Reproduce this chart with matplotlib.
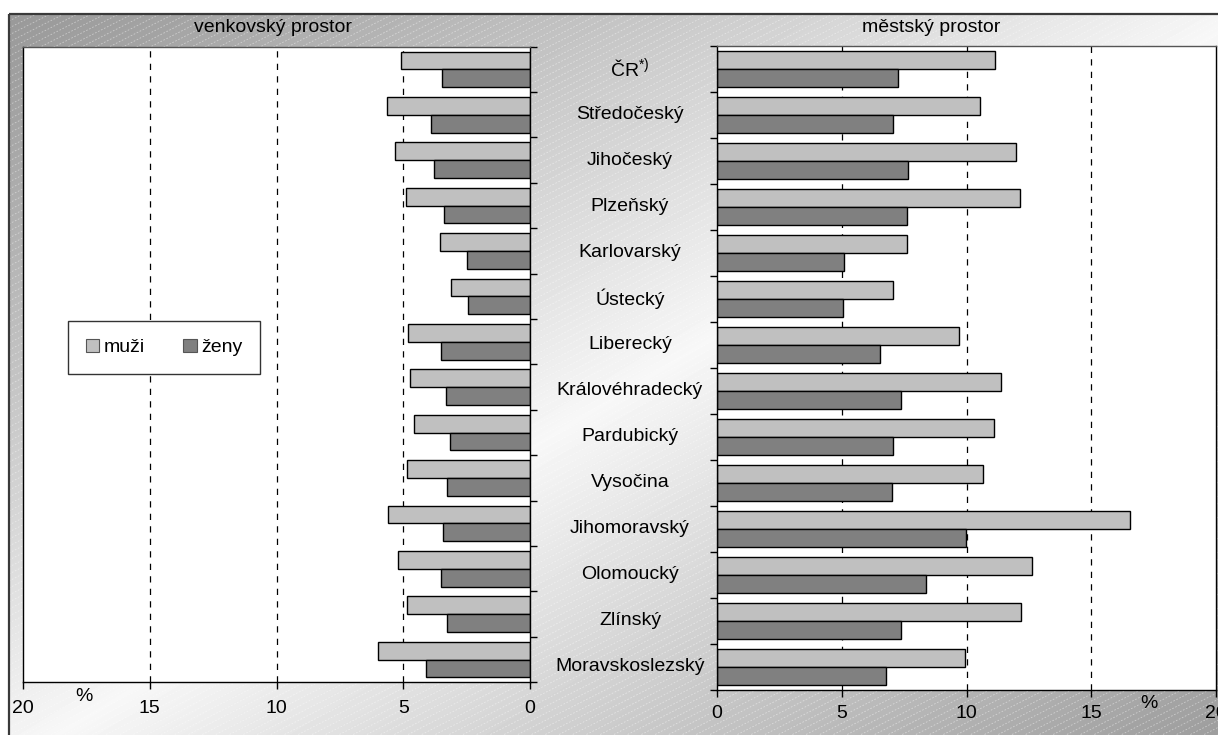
import numpy as np
import matplotlib
matplotlib.use("Agg")
import matplotlib.pyplot as plt
from matplotlib import transforms
from matplotlib.collections import LineCollection
from matplotlib.patches import Rectangle, Patch

plt.rcParams['font.family'] = ['Liberation Sans', 'DejaVu Sans']
plt.rcParams['mathtext.fontset'] = 'custom'
plt.rcParams['mathtext.rm'] = 'Liberation Sans'

# ---------------- data ----------------
regions = ["ČR$^{\\mathregular{*)}}$", "Středočeský", "Jihočeský", "Plzeňský", "Karlovarský",
           "Ústecký", "Liberecký", "Královéhradecký", "Pardubický", "Vysočina",
           "Jihomoravský", "Olomoucký", "Zlínský", "Moravskoslezský"]
rural_men = [5.07, 5.66, 5.31, 4.91, 3.57, 3.13, 4.83, 4.73, 4.56, 4.87, 5.62, 5.22, 4.87, 6.00]
rural_women = [3.49, 3.89, 3.77, 3.41, 2.50, 2.46, 3.53, 3.33, 3.17, 3.28, 3.43, 3.53, 3.28, 4.12]
urban_men = [11.16, 10.56, 11.97, 12.13, 7.63, 7.07, 9.68, 11.38, 11.12, 10.68, 16.57, 12.63, 12.17, 9.95]
urban_women = [7.27, 7.07, 7.67, 7.63, 5.09, 5.06, 6.55, 7.39, 7.07, 7.02, 9.97, 8.39, 7.39, 6.79]
xticks_vals = [0, 5, 10, 15, 20]
legend_labels = ["muži", "ženy"]
panel_titles = ["venkovský prostor", "městský prostor"]

C_MEN = "#c0c0c0"
C_WOMEN = "#808080"
W, H = 1218, 735
FS = 14

fig = plt.figure(figsize=(W / 100, H / 100), dpi=100)

# ---------------- background ----------------
bg = fig.add_axes([0, 0, 1, 1], zorder=-10)
bg.set_xlim(0, W)
bg.set_ylim(H, 0)
bg.axis("off")
fx0, fy0 = 9, 14
xx, yy = np.meshgrid(np.linspace(0, 1, 400), np.linspace(0, 1, 250))
t = (xx + yy) / 2.0
tri = 1 - np.abs(2 * t - 1)
val = 0.60 + (0.97 - 0.60) * tri ** 1.1
bg.imshow(val, cmap="gray", vmin=0, vmax=1, extent=[fx0, W + 30, H + 30, fy0],
          aspect="auto", interpolation="bilinear", zorder=0)
segs = []
slope = 0.51
for c in np.arange(fy0, H + W * slope + 20, 7):
    segs.append([(fx0, c), (W + 30, c - (W + 30 - fx0) * slope)])
lc = LineCollection(segs, colors="white", linewidths=0.6, alpha=0.45,
                    linestyles=(0, (2, 2)), zorder=1)
bg.add_collection(lc)
frame = Rectangle((fx0, fy0), W + 30, H + 30, fill=False, edgecolor="#3a3a3a",
                  linewidth=1.6, zorder=2)
bg.add_patch(frame)
lc.set_clip_path(frame)
bg.set_xlim(0, W)
bg.set_ylim(H, 0)

n = len(regions)
y = np.arange(n)
bh = 0.39


def setup(ax, inverted):
    ax.set_facecolor("white")
    ax.set_ylim(n - 0.5, -0.5)
    if inverted:
        ax.set_xlim(20, 0)
    else:
        ax.set_xlim(0, 20)
    ax.set_xticks(xticks_vals)
    ax.set_yticks(np.arange(n + 1) - 0.5)
    ax.set_yticklabels([])
    for v in [5, 10, 15]:
        ax.axvline(v, color="black", linestyle=(0, (5, 5)), linewidth=0.9, zorder=0.5)
    for s in ax.spines.values():
        s.set_color("black")
        s.set_linewidth(1.0)
    ax.spines["top"].set_color("#555555")
    ax.tick_params(axis="x", direction="out", length=5, width=1, labelsize=FS, colors="black")
    ax.tick_params(axis="y", direction="out", length=5, width=1)


# left (rural)
axL = fig.add_axes([23 / W, (H - 682.3) / H, 507 / W, 635.6 / H])
setup(axL, True)
axL.yaxis.tick_right()
axL.barh(y - bh / 2, rural_men, height=bh, color=C_MEN, edgecolor="black", linewidth=1.0, zorder=2)
axL.barh(y + bh / 2, rural_women, height=bh, color=C_WOMEN, edgecolor="black", linewidth=1.0, zorder=2)
axL.tick_params(axis="x", pad=8)
axL.annotate("%", xy=(17.6, 0), xycoords=("data", "axes fraction"), xytext=(0, -4),
             textcoords="offset points", ha="center", va="top", fontsize=FS)

# right (urban)
axR = fig.add_axes([717 / W, (H - 689.7) / H, 499 / W, 644 / H])
setup(axR, False)
axR.yaxis.tick_left()
axR.barh(y - bh / 2, urban_men, height=bh, color=C_MEN, edgecolor="black", linewidth=1.0, zorder=2)
axR.barh(y + bh / 2, urban_women, height=bh, color=C_WOMEN, edgecolor="black", linewidth=1.0, zorder=2)
axR.tick_params(axis="x", pad=6)
axR.annotate("%", xy=(17.3, 0), xycoords=("data", "axes fraction"), xytext=(0, -4),
             textcoords="offset points", ha="center", va="top", fontsize=FS)

# category labels in the middle
tr = transforms.blended_transform_factory(fig.transFigure, axR.transData)
for i, name in enumerate(regions):
    fig.text(630 / W, i, name, transform=tr, ha="center", va="center", fontsize=FS)

# titles
fig.text(273 / W, 1 - 28 / H, panel_titles[0], ha="center", va="center", fontsize=FS)
fig.text(931 / W, 1 - 28 / H, panel_titles[1], ha="center", va="center", fontsize=FS)

# legend
handles = [Patch(facecolor=C_MEN, edgecolor="#555555", linewidth=0.8),
           Patch(facecolor=C_WOMEN, edgecolor="#555555", linewidth=0.8)]
leg = fig.legend(handles, legend_labels, ncol=2, loc="center",
                 bbox_to_anchor=(164 / W, 1 - 347.5 / H), fontsize=FS,
                 frameon=True, fancybox=False, shadow=False, framealpha=1,
                 edgecolor="#333333", handlelength=0.7, handleheight=0.7,
                 handletextpad=0.2, columnspacing=2.0, borderpad=0.9,
                 borderaxespad=0)
leg.get_frame().set_linewidth(1.0)

fig.savefig("out.png", dpi=100)
